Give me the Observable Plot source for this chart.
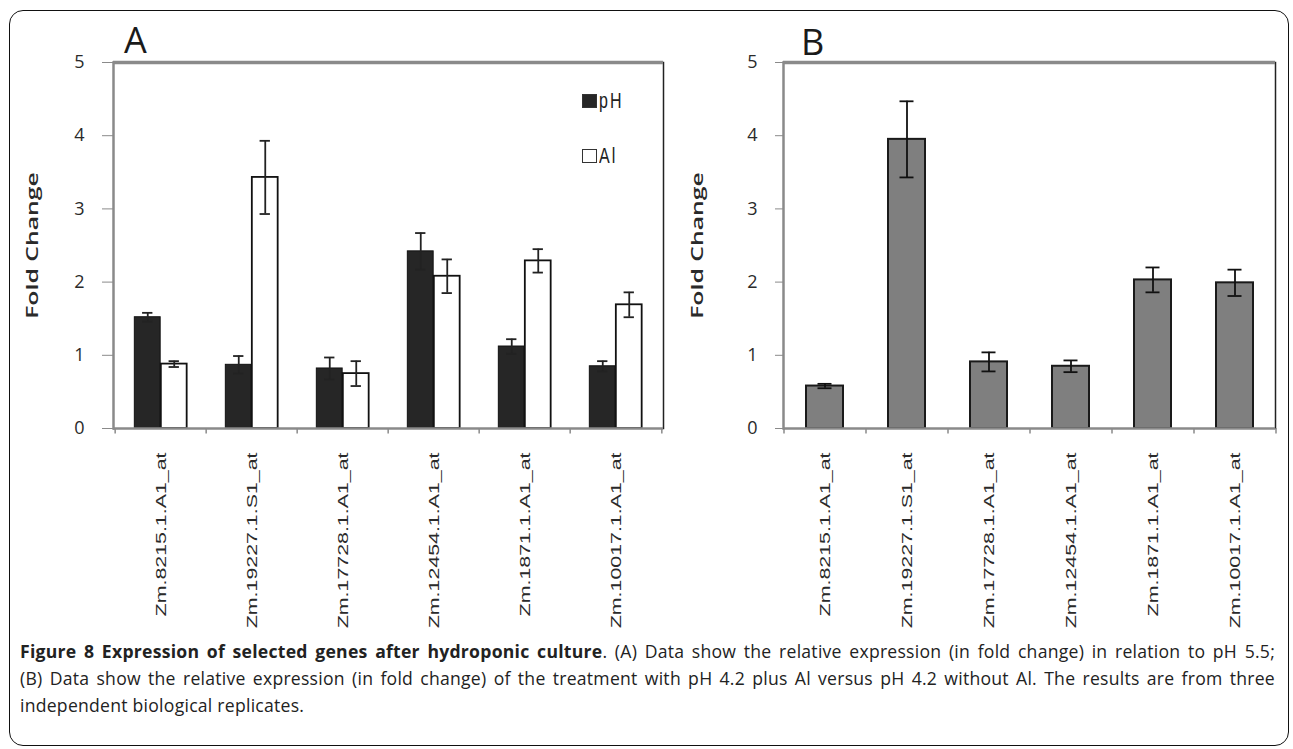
<!DOCTYPE html>
<html><head><meta charset="utf-8">
<script src="https://cdn.jsdelivr.net/npm/d3@7"></script>
<script src="https://cdn.jsdelivr.net/npm/@observablehq/plot@0.6"></script>
<style>
body{margin:0;background:#fff;}
#page{position:relative;width:1293px;height:749px;overflow:hidden;background:#fff;}
#border{position:absolute;left:9px;top:10px;width:1280px;height:736px;border:1.5px solid #111;border-radius:14px;box-sizing:border-box;}
.panel{position:absolute;top:0;}
.plabel{position:absolute;font-family:"Open Sans",sans-serif;font-size:36px;line-height:38px;color:#1a1a1a;}
.leg{position:absolute;font-family:"Liberation Sans",Arial,sans-serif;font-size:16px;letter-spacing:2px;color:#222;display:flex;align-items:center;}
.leg .sw{display:inline-block;width:15px;height:14px;box-sizing:border-box;border:1.5px solid #333;margin-right:2px;}
.leg .tx{display:inline-block;transform:scaleY(1.35);}
#caption{position:absolute;left:20px;top:638px;width:1255px;font-family:"Open Sans",sans-serif;font-size:17.6px;letter-spacing:0.25px;line-height:27px;color:#222;}
#caption .j{text-align:justify;text-align-last:justify;}
</style></head>
<body><div id="page">
<div id="border"></div>
<div id="panelA" class="panel" style="left:0px"></div>
<div id="panelB" class="panel" style="left:680px"></div>
<div class="plabel" style="left:124px;top:21px">A</div>
<div class="plabel" style="left:801px;top:23px">B</div>
<div class="leg" style="left:582px;top:92px"><span class="sw" style="background:#262626"></span><span class="tx" id="legPh"></span></div>
<div class="leg" style="left:582px;top:147px"><span class="sw" style="background:#fff"></span><span class="tx" id="legAl"></span></div>
<div id="caption">
<div class="j"><b>Figure 8 Expression of selected genes after hydroponic culture</b>. (A) Data show the relative expression (in fold change) in relation to pH 5.5;</div>
<div class="j">(B) Data show the relative expression (in fold change) of the treatment with pH 4.2 plus Al versus pH 4.2 without Al. The results are from three</div>
<div>independent biological replicates.</div>
</div>
</div>
<script>
const genes = ["Zm.8215.1.A1_at","Zm.19227.1.S1_at","Zm.17728.1.A1_at","Zm.12454.1.A1_at","Zm.1871.1.A1_at","Zm.10017.1.A1_at"];
const seriesNames = ["pH","Al"];
const phValues = [1.52,0.87,0.82,2.42,1.12,0.85];
const phErrors = [0.06,0.12,0.15,0.25,0.10,0.07];
const alValues = [0.88,3.43,0.75,2.08,2.29,1.69];
const alErrors = [0.04,0.50,0.17,0.23,0.16,0.17];
const bValues = [0.58,3.95,0.91,0.85,2.03,1.99];
const bErrors = [0.03,0.52,0.13,0.08,0.17,0.18];
const yTicks = [0,1,2,3,4,5];
const yLabel = "Fold Change";

document.getElementById("legPh").textContent = seriesNames[0];
document.getElementById("legAl").textContent = seriesNames[1];

const rowsPh = genes.map((g,i)=>({gene:g, value:phValues[i], err:phErrors[i]}));
const rowsAl = genes.map((g,i)=>({gene:g, value:alValues[i], err:alErrors[i]}));
const rowsB = genes.map((g,i)=>({gene:g, value:bValues[i], err:bErrors[i]}));

const GRAY = "#8a8a8a";
const FONT = "'Open Sans', sans-serif";

function stretch(svg, labels, sx){
  d3.select(svg).selectAll("text").filter(function(){ return labels.includes(this.textContent); })
    .attr("transform", function(){
      return (this.getAttribute("transform")||"") + ` scale(${sx},1)`;
    });
}

// Panel A
{
  const W = 680, H = 660, ml = 113, mr = 17, mt = 62, mb = H - 428;
  const bw = (W - ml - mr) / genes.length;
  const barW = 26.5, cap = 11;
  const svg = Plot.plot({
    width: W, height: H, marginLeft: ml, marginRight: mr, marginTop: mt, marginBottom: mb,
    style: {fontFamily: FONT, fontSize: "18px", color: "#2a2a2a", background: "transparent", overflow: "visible"},
    x: {type: "band", domain: genes, padding: 0, axis: null},
    y: {domain: [0, 5], axis: null},
    marks: [
      Plot.axisY({ticks: yTicks, tickFormat: d => String(d), tickSize: 11, tickPadding: 18, stroke: GRAY, fontSize: 18, label: null}),
      Plot.frame({anchor: "left", stroke: GRAY, strokeWidth: 2.5}),
      Plot.frame({anchor: "right", stroke: "#222", strokeWidth: 1.5}),
      Plot.ruleY([5], {stroke: GRAY, strokeWidth: 3.5}),
      Plot.barY(rowsPh, {x: "gene", y: "value", fill: "#262626", stroke: "#111", strokeWidth: 1, insetLeft: bw/2 - barW, insetRight: bw/2}),
      Plot.barY(rowsAl, {x: "gene", y: "value", fill: "#fff", stroke: "#111", strokeWidth: 1.8, insetLeft: bw/2, insetRight: bw/2 - barW}),
      Plot.ruleY([0], {stroke: GRAY, strokeWidth: 2.5}),
      Plot.ruleX(genes, {x: d => d, dx: -bw/2, y1: 0, y2: -0.075, stroke: GRAY, strokeWidth: 1.5}),
      Plot.ruleX(genes.slice(-1), {x: d => d, dx: bw/2, y1: 0, y2: -0.075, stroke: GRAY, strokeWidth: 1.5}),
      Plot.ruleX(rowsPh, {x: "gene", dx: -barW/2, y1: d => d.value - d.err, y2: d => d.value + d.err, stroke: "#222", strokeWidth: 1.8}),
      Plot.ruleX(rowsAl, {x: "gene", dx: barW/2, y1: d => d.value - d.err, y2: d => d.value + d.err, stroke: "#222", strokeWidth: 1.8}),
      Plot.tickY(rowsPh, {x: "gene", y: d => d.value + d.err, insetLeft: bw/2 - barW/2 - cap/2, insetRight: bw/2 + barW/2 - cap/2, stroke: "#222", strokeWidth: 1.8}),
      Plot.tickY(rowsPh, {x: "gene", y: d => d.value - d.err, insetLeft: bw/2 - barW/2 - cap/2, insetRight: bw/2 + barW/2 - cap/2, stroke: "#222", strokeWidth: 1.8}),
      Plot.tickY(rowsAl, {x: "gene", y: d => d.value + d.err, insetLeft: bw/2 + barW/2 - cap/2, insetRight: bw/2 - barW/2 - cap/2, stroke: "#222", strokeWidth: 1.8}),
      Plot.tickY(rowsAl, {x: "gene", y: d => d.value - d.err, insetLeft: bw/2 + barW/2 - cap/2, insetRight: bw/2 - barW/2 - cap/2, stroke: "#222", strokeWidth: 1.8}),
      Plot.text(genes, {x: d => d, y: 0, text: d => d, rotate: -90, textAnchor: "end", dy: 24, fontFamily: "'Liberation Sans', Arial, sans-serif", fontSize: 15.5, fill: "#2a2a2a"}),
      Plot.text([yLabel], {frameAnchor: "left", text: d => d, rotate: -90, textAnchor: "middle", dx: -81, fontFamily: FONT, fontSize: 16, fontWeight: 600, fill: "#2a2a2a"})
    ]
  });
  stretch(svg, genes, 1.38);
  stretch(svg, [yLabel], 1.55);
  document.getElementById("panelA").appendChild(svg);
}

// Panel B
{
  const W = 613, H = 660, ml = 103, mr = 18, mt = 62, mb = H - 428;
  const step = (W - ml - mr) / genes.length;
  const svg = Plot.plot({
    width: W, height: H, marginLeft: ml, marginRight: mr, marginTop: mt, marginBottom: mb,
    style: {fontFamily: FONT, fontSize: "18px", color: "#2a2a2a", background: "transparent", overflow: "visible"},
    x: {type: "band", domain: genes, paddingInner: 0.55, paddingOuter: 0.275, axis: null},
    y: {domain: [0, 5], axis: null},
    marks: [
      Plot.axisY({ticks: yTicks, tickFormat: d => String(d), tickSize: 8, tickPadding: 18, stroke: GRAY, fontSize: 18, label: null}),
      Plot.frame({anchor: "left", stroke: GRAY, strokeWidth: 2.5}),
      Plot.frame({anchor: "right", stroke: "#222", strokeWidth: 1.5}),
      Plot.ruleY([5], {stroke: GRAY, strokeWidth: 3.5}),
      Plot.barY(rowsB, {x: "gene", y: "value", fill: "#7f7f7f", stroke: "#1a1a1a", strokeWidth: 2}),
      Plot.ruleY([0], {stroke: GRAY, strokeWidth: 2.5}),
      Plot.ruleX(genes, {x: d => d, dx: -step/2, y1: 0, y2: -0.075, stroke: GRAY, strokeWidth: 1.5}),
      Plot.ruleX(genes.slice(-1), {x: d => d, dx: step/2, y1: 0, y2: -0.075, stroke: GRAY, strokeWidth: 1.5}),
      Plot.ruleX(rowsB, {x: "gene", y1: d => d.value - d.err, y2: d => d.value + d.err, stroke: "#111", strokeWidth: 1.8}),
      Plot.tickY(rowsB, {x: "gene", y: d => d.value + d.err, inset: 11.5, stroke: "#111", strokeWidth: 1.8}),
      Plot.tickY(rowsB, {x: "gene", y: d => d.value - d.err, inset: 11.5, stroke: "#111", strokeWidth: 1.8}),
      Plot.text(genes, {x: d => d, y: 0, text: d => d, rotate: -90, textAnchor: "end", dy: 24, fontFamily: "'Liberation Sans', Arial, sans-serif", fontSize: 15.5, fill: "#2a2a2a"}),
      Plot.text([yLabel], {frameAnchor: "left", text: d => d, rotate: -90, textAnchor: "middle", dx: -86, fontFamily: FONT, fontSize: 16, fontWeight: 600, fill: "#2a2a2a"})
    ]
  });
  stretch(svg, genes, 1.38);
  stretch(svg, [yLabel], 1.55);
  document.getElementById("panelB").appendChild(svg);
}
</script>
</body></html>
